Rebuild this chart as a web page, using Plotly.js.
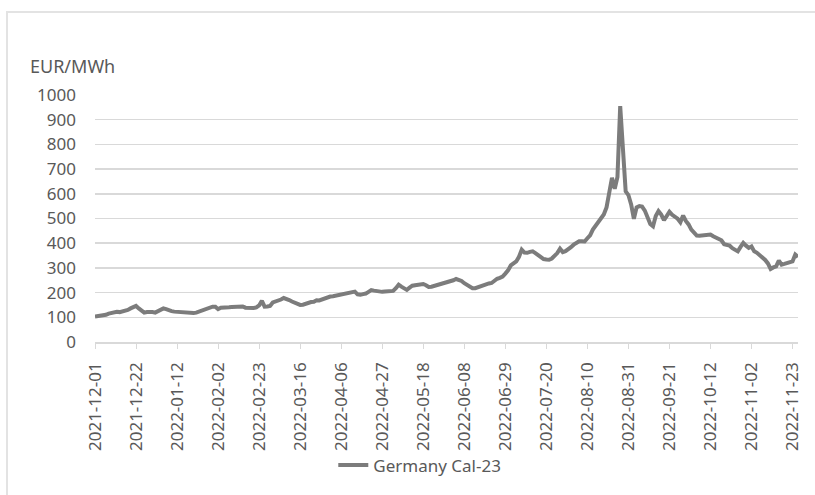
<!DOCTYPE html>
<html>
<head>
<meta charset="utf-8">
<script src="https://cdn.plot.ly/plotly-3.0.1.min.js"></script>
<style>
  html, body { margin: 0; padding: 0; background: #ffffff; }
  #wrap { position: relative; width: 815px; height: 495px; overflow: hidden; }
  #frame { position: absolute; left: 6px; top: 11px; width: 900px; height: 600px;
           border-top: 2px solid #e3e3e3; border-left: 2px solid #e3e3e3; pointer-events: none; }
  #chart { position: absolute; left: 0; top: 0; width: 815px; height: 495px; }
</style>
</head>
<body>
<div id="wrap">
  <div id="chart"></div>
  <div id="frame"></div>
</div>
<script>
// German baseload power, calendar 2023 contract, daily settlement (EUR/MWh)
const seriesName = "Germany Cal-23";
const startDate = "2021-12-01";

const cal23 = [
  103, 104, 106, 106, 110, 115, 118, 120, 122, 121,
  123, 124, 130, 136, 142, 146, 136, 126, 119, 121,
  123, 121, 119, 124, 129, 136, 133, 127, 125, 123,
  122, 120, 117, 117, 116, 118, 117, 119, 123, 126,
  130, 136, 141, 143, 143, 133, 139, 141, 140, 141,
  142, 143, 143, 146, 144, 139, 138, 137, 138, 140,
  148, 167, 143, 144, 146, 160, 163, 168, 172, 178,
  176, 170, 164, 160, 156, 150, 151, 156, 158, 162,
  163, 169, 168, 172, 178, 180, 184, 185, 187, 190,
  193, 195, 198, 200, 202, 204, 193, 191, 194, 196,
  203, 210, 208, 205, 204, 203, 204, 205, 206, 207,
  218, 232, 224, 218, 211, 220, 228, 230, 232, 233,
  235, 230, 223, 224, 227, 228, 232, 236, 239, 242,
  244, 250, 255, 253, 247, 238, 230, 223, 218, 218,
  222, 229, 231, 235, 237, 239, 250, 256, 260, 265,
  277, 290, 310, 318, 326, 345, 374, 362, 361, 365,
  367, 360, 353, 343, 336, 334, 333, 338, 347, 360,
  378, 364, 368, 374, 384, 394, 401, 408, 408, 407,
  420, 432, 455, 470, 482, 496, 516, 545, 610, 665,
  620, 668, 955, 760, 610, 595, 557, 499, 545, 550,
  548, 532, 505, 478, 469, 510, 530, 516, 493, 510,
  527, 515, 509, 499, 485, 512, 490, 476, 455, 440,
  431, 430, 431, 432, 433, 435, 428, 424, 418, 412,
  396, 392, 390, 380, 374, 367, 385, 401, 390, 381,
  387, 367, 361, 353, 344, 332, 318, 296, 302, 306,
  330, 313, 316, 320, 324, 326, 354, 344
];

// Axis labels shown every 15 trading days
const tickLabels = [
  "2021-12-01", "2021-12-22", "2022-01-12", "2022-02-02", "2022-02-23",
  "2022-03-16", "2022-04-06", "2022-04-27", "2022-05-18", "2022-06-08",
  "2022-06-29", "2022-07-20", "2022-08-10", "2022-08-31", "2022-09-21",
  "2022-10-12", "2022-11-02", "2022-11-23"
];

const yTicks = [0, 100, 200, 300, 400, 500, 600, 700, 800, 900, 1000];

// Trading days (Mon-Fri) starting from the first settlement date
function tradingDays(first, count) {
  const out = [];
  const d = new Date(first + "T00:00:00Z");
  while (out.length < count) {
    const wd = d.getUTCDay();
    if (wd !== 0 && wd !== 6) out.push(d.toISOString().slice(0, 10));
    d.setUTCDate(d.getUTCDate() + 1);
  }
  return out;
}
const dates = tradingDays(startDate, cal23.length);

const textColor = "#595959";
const gridColor = "#d9d9d9";
const font = "Noto Sans, Open Sans, sans-serif";

const trace = {
  type: "scatter",
  mode: "lines",
  name: seriesName,
  x: dates,
  y: cal23,
  line: { color: "#7c7c7c", width: 4 },
  hoverinfo: "x+y"
};

const layout = {
  width: 815,
  height: 495,
  paper_bgcolor: "#ffffff",
  plot_bgcolor: "#ffffff",
  margin: { l: 95, r: 17, t: 95, b: 153, pad: 0 },
  font: { family: font, size: 17, color: textColor },
  showlegend: true,
  legend: {
    orientation: "h",
    x: 0.462, xanchor: "center",
    y: -0.50, yanchor: "middle",
    font: { family: font, size: 17, color: textColor },
    bgcolor: "rgba(0,0,0,0)"
  },
  xaxis: {
    type: "category",
    categoryorder: "array",
    categoryarray: dates,
    range: [0, dates.length - 1],
    tickmode: "array",
    tickvals: tickLabels,
    ticktext: tickLabels,
    tickangle: -90,
    ticks: "outside",
    ticklen: 5,
    tickcolor: gridColor,
    tickwidth: 1,
    showline: true,
    linecolor: gridColor,
    linewidth: 1.5,
    showgrid: false,
    zeroline: false,
    automargin: false,
    tickfont: { family: font, size: 17, color: textColor },
    ticklabelstandoff: 7
  },
  yaxis: {
    range: [0, 1000],
    tickmode: "array",
    tickvals: yTicks,
    ticktext: yTicks.map(String),
    showgrid: true,
    gridcolor: gridColor,
    gridwidth: 1.5,
    zeroline: false,
    showline: false,
    ticks: "",
    automargin: false,
    tickfont: { family: font, size: 17, color: textColor },
    ticklabelstandoff: 18
  },
  annotations: [{
    text: "EUR/MWh",
    xref: "paper", yref: "paper",
    x: -0.095, xanchor: "left",
    y: 1.117, yanchor: "middle",
    showarrow: false,
    font: { family: font, size: 18, color: textColor }
  }]
};

Plotly.newPlot("chart", [trace], layout, { displayModeBar: false, staticPlot: true });
</script>
</body>
</html>
